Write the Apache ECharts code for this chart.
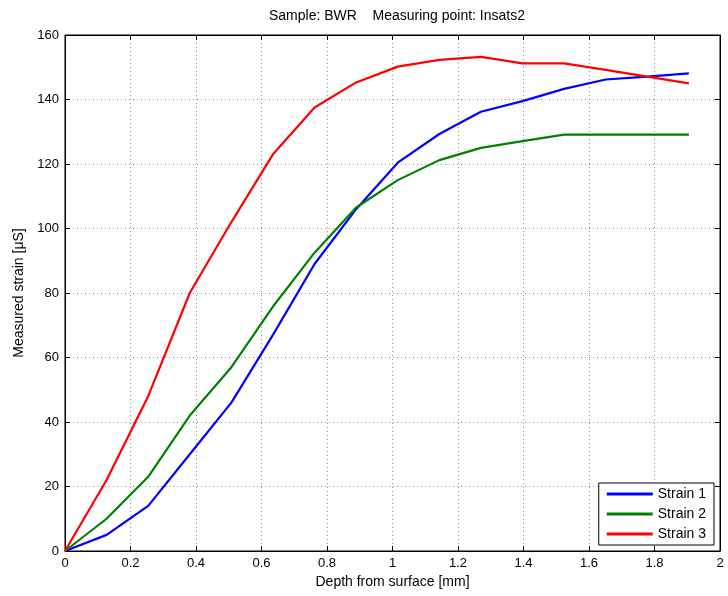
<!DOCTYPE html>
<html>
<head>
<meta charset="utf-8">
<script src="https://cdn.jsdelivr.net/npm/echarts@6/dist/echarts.min.js"></script>
<style>
html, body { margin: 0; padding: 0; background: #fff; }
#main { width: 728px; height: 596px; }
</style>
</head>
<body>
<div id="main"></div>
<script>
// depth steps [mm]
var depth = [0, 0.127, 0.254, 0.381, 0.508, 0.635, 0.762, 0.889, 1.016, 1.143, 1.27, 1.397, 1.524, 1.651, 1.778, 1.905];
var strain1 = [0, 5, 14, 30, 46, 67, 89, 106, 120.4, 129.3, 136.2, 139.5, 143.3, 146.2, 147.1, 148.1];
var strain2 = [0, 10, 23, 42, 57, 75.8, 92.5, 106.5, 115, 121.2, 125, 127.1, 129.1, 129.1, 129.1, 129.1];
var strain3 = [0, 22, 48, 80, 102, 123, 137.5, 145.3, 150.2, 152.3, 153.2, 151.2, 151.2, 149.2, 147.1, 145];
var seriesNames = ['Strain 1', 'Strain 2', 'Strain 3'];
var colors = ['#0000ff', '#008000', '#ff0000'];

function pairs(ys) {
    return depth.map(function(d, i){ return [d, ys[i]]; });
}

var font = 'Liberation Sans, Arial, sans-serif';
var myChart = echarts.init(document.getElementById('main'));

var gridLine = { show: true, lineStyle: { color: '#909090', type: [1, 3], width: 1 } };
var tick = { show: true, inside: true, length: 5, lineStyle: { color: '#000' } };
var option = {
    animation: false,
    textStyle: { fontFamily: font },
    title: {
        text: 'Sample: BWR    Measuring point: Insats2',
        left: 392, top: 4, textAlign: 'center',
        textStyle: { fontSize: 14, fontWeight: 'normal', color: '#000', fontFamily: font }
    },
    grid: { left: 65, right: 8, top: 35, bottom: 45, show: true, borderColor: '#000', borderWidth: 1 },
    legend: {
        data: seriesNames,
        orient: 'vertical',
        right: 14, bottom: 51,
        icon: 'rect',
        itemWidth: 46, itemHeight: 3,
        itemGap: 6,
        padding: [4, 8, 4, 8],
        borderColor: '#000', borderWidth: 1,
        backgroundColor: '#fff',
        textStyle: { fontSize: 14, color: '#000', fontFamily: font }
    },
    xAxis: [{
        type: 'value', min: 0, max: 2, interval: 0.2,
        name: 'Depth from surface [mm]', nameLocation: 'middle', nameGap: 23,
        nameTextStyle: { fontSize: 14, color: '#000' },
        axisLine: { show: true, onZero: false, lineStyle: { color: '#000' } },
        axisTick: tick,
        axisLabel: { fontSize: 13, color: '#000', margin: 6 },
        splitLine: gridLine
    }, {
        type: 'value', min: 0, max: 2, interval: 0.2, position: 'top',
        axisLine: { show: true, onZero: false, lineStyle: { color: '#000' } },
        axisTick: tick,
        axisLabel: { show: false }, splitLine: { show: false }
    }],
    yAxis: [{
        type: 'value', min: 0, max: 160, interval: 20,
        name: 'Measured strain [μS]', nameLocation: 'middle', nameGap: 38,
        nameTextStyle: { fontSize: 14, color: '#000' },
        axisLine: { show: true, onZero: false, lineStyle: { color: '#000' } },
        axisTick: tick,
        axisLabel: { fontSize: 13, color: '#000', margin: 6 },
        splitLine: gridLine
    }, {
        type: 'value', min: 0, max: 160, interval: 20, position: 'right',
        axisLine: { show: true, onZero: false, lineStyle: { color: '#000' } },
        axisTick: tick,
        axisLabel: { show: false }, splitLine: { show: false }
    }],
    series: [strain1, strain2, strain3].map(function(ys, i){
        return {
            name: seriesNames[i],
            type: 'line',
            data: pairs(ys),
            showSymbol: false,
            color: colors[i],
            lineStyle: { width: 2.2, color: colors[i] }
        };
    })
};
myChart.setOption(option);
</script>
</body>
</html>
